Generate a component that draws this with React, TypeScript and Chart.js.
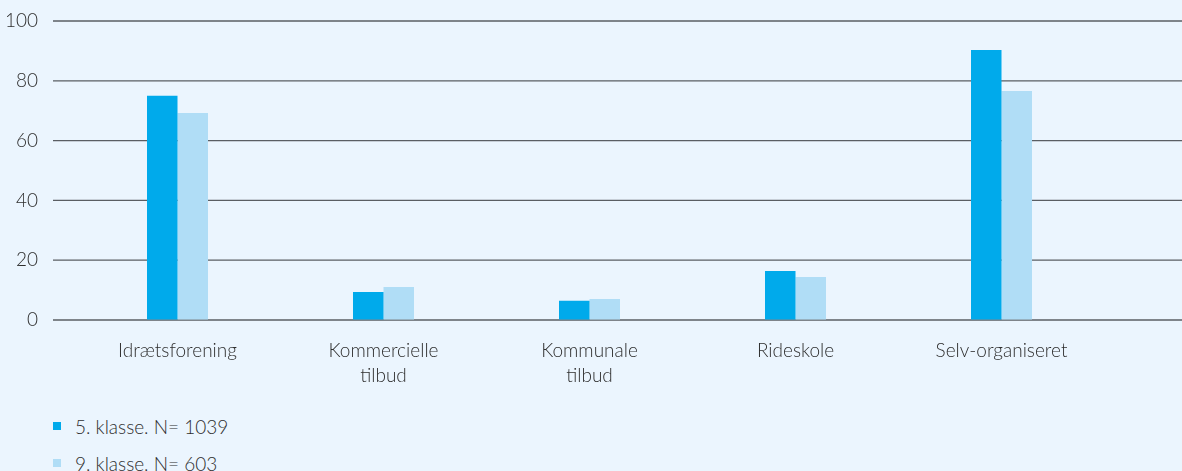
import React, { useEffect, useRef } from "react";
import { Chart, registerables } from "chart.js";

Chart.register(...registerables);

const categories: (string | string[])[] = [
  "Idrætsforening",
  ["Kommercielle", "tilbud"],
  ["Kommunale", "tilbud"],
  "Rideskole",
  "Selv-organiseret",
];
const seriesNames = ["5. klasse. N= 1039", "9. klasse. N= 603"];
const grade5 = [75, 9.4, 6.4, 16.4, 90.3];
const grade9 = [69.2, 11, 7, 14.4, 76.6];
const yMin = 0;
const yMax = 100;
const yStep = 20;

const COLORS = ["#00aaeb", "#b0ddf6"];
const BG = "#ebf5fe";
const TEXT = "#2e2e2e";
const FONT = "Lato, 'Open Sans', sans-serif";
const FONT_SIZE = 19;
const FONT_WEIGHT = 300;

const gridPlugin = {
  id: "extendedGrid",
  beforeDatasetsDraw(chart: any) {
    const y = chart.scales.y;
    const ctx = chart.ctx;
    ctx.save();
    ctx.strokeStyle = "#5a5e63";
    ctx.lineWidth = 1.3;
    y.ticks.forEach((t: any) => {
      const py = y.getPixelForValue(t.value);
      ctx.beginPath();
      ctx.moveTo(53, py);
      ctx.lineTo(chart.width, py);
      ctx.stroke();
    });
    ctx.restore();
  },
};

export default function App() {
  const ref = useRef<HTMLCanvasElement | null>(null);
  useEffect(() => {
    if (!ref.current) return;
    const chart = new Chart(ref.current, {
      type: "bar",
      data: {
        labels: categories as any,
        datasets: [
          { label: seriesNames[0], data: grade5, backgroundColor: COLORS[0] },
          { label: seriesNames[1], data: grade9, backgroundColor: COLORS[1] },
        ],
      },
      options: {
        animation: false,
        responsive: true,
        maintainAspectRatio: false,
        layout: { padding: { left: 0, right: 77.5, top: 21, bottom: 0 } },
        datasets: { bar: { categoryPercentage: 61 / 206, barPercentage: 1 } },
        plugins: {
          legend: { display: false },
          tooltip: { enabled: false },
        },
        scales: {
          x: {
            grid: { display: false, drawTicks: false },
            border: { display: false },
            ticks: {
              color: TEXT,
              font: { family: FONT, size: FONT_SIZE, weight: FONT_WEIGHT as any, lineHeight: 25 / FONT_SIZE },
              padding: 18.5,
              maxRotation: 0,
              autoSkip: false,
            },
            afterFit(scale: any) {
              scale.height = 400 - 320;
            },
          },
          y: {
            min: yMin,
            max: yMax,
            grid: {
              display: true,
              drawOnChartArea: false,
              drawTicks: true,
              tickLength: 36.5,
              color: "rgba(0,0,0,0)",
              tickColor: "rgba(0,0,0,0)",
            },
            border: { display: false },
            ticks: {
              stepSize: yStep,
              color: TEXT,
              font: { family: FONT, size: FONT_SIZE, weight: FONT_WEIGHT as any },
              padding: 0,
            },
            afterFit(scale: any) {
              scale.width = 74.5;
            },
          },
        },
      },
      plugins: [gridPlugin],
    });
    return () => chart.destroy();
  }, []);

  return (
    <div
      style={{
        position: "fixed",
        left: 0,
        top: 0,
        width: 1182,
        height: 471,
        background: BG,
        overflow: "hidden",
      }}
    >
      <div style={{ position: "absolute", left: 0, top: 0, width: 1182, height: 400 }}>
        <canvas ref={ref} />
      </div>
      {seriesNames.map((name, i) => (
        <div
          key={name}
          style={{
            position: "absolute",
            left: 53,
            top: 426 + i * 37 - 12,
            height: 24,
            display: "flex",
            alignItems: "center",
            fontFamily: FONT,
            fontSize: FONT_SIZE,
            fontWeight: FONT_WEIGHT,
            color: TEXT,
            whiteSpace: "pre",
          }}
        >
          <span
            style={{
              display: "inline-block",
              width: 8,
              height: 8,
              background: COLORS[i],
              marginRight: 14,
            }}
          />
          {name}
        </div>
      ))}
    </div>
  );
}
